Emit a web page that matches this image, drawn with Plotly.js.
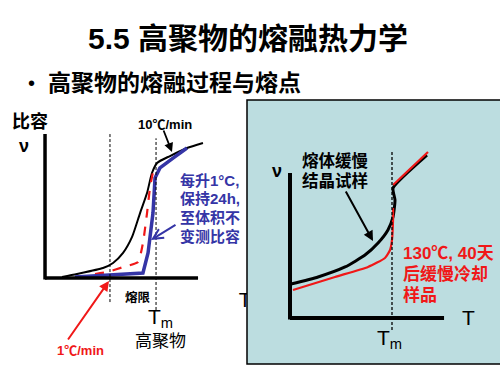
<!DOCTYPE html>
<html><head><meta charset="utf-8">
<script src="https://cdn.plot.ly/plotly-3.0.1.min.js"></script>
<style>html,body{margin:0;padding:0;background:#fff}#chart{width:500px;height:383px}</style>
</head><body><div id="chart"></div>
<script>
// ---- Left panel: temperature (arb.) vs specific volume (arb.) ----
const fastT = [10.6, 19.4, 34.7, 40.6, 46.5, 51.8, 56.5, 60.6, 63.5, 66.5, 74.1, 84.1, 93.5];
const fastV = [0.7, 2.8, 6.9, 10.4, 17.4, 28.5, 45.1, 59.0, 72.9, 79.9, 84.7, 90.3, 93.8];
const slowT = [30.0, 37.6, 46.5, 55.3, 58.2, 60.6, 62.4, 64.1];
const slowV = [2.8, 4.2, 7.6, 11.1, 24.3, 45.1, 63.2, 73.6];
const stepT = [18.2, 58.2, 61.2, 64.1, 65.3, 68.2, 75.9, 84.1];
const stepV = [0.7, 3.5, 17.4, 45.1, 69.4, 76.4, 83.3, 90.3];
const leftMarks = [38.8, 65.9];          // 熔限 lower bound, Tm
const leftMarkTop = [100, 97];
const leftMarkBottom = [-16.7, -22.2];
// ---- Right panel ----
const meltT = [0.7, 18.7, 36.7, 50.0, 58.7, 65.3, 68.7, 70.0, 68.7, 91.3];
const meltV = [23.4, 28.3, 35.2, 43.4, 51.7, 60.7, 69.7, 81.4, 89.7, 112.4];
const annT = [2.0, 30.0, 52.0, 63.3, 66.7, 68.0, 68.7, 68.7, null, 68.7, 92.0];
const annV = [19.3, 28.3, 35.2, 41.4, 46.9, 53.8, 67.6, 75.9, null, 91.7, 114.5];
const rightTm = 68;

const W = 500, H = 383;
const px = x => x / W, py = y => 1 - y / H;
const FONT = "Liberation Sans, Noto Sans CJK SC, sans-serif";
const BLUE = "#3535a6", RED = "#f01818";

const traces = [
  {x: fastT, y: fastV, xaxis: 'x', yaxis: 'y', mode: 'lines', line: {color: '#000', width: 2, shape: 'spline', smoothing: 0.6}},
  {x: slowT, y: slowV, xaxis: 'x', yaxis: 'y', mode: 'lines', line: {color: RED, width: 2.2, dash: 'dash', shape: 'spline', smoothing: 0.5}},
  {x: stepT, y: stepV, xaxis: 'x', yaxis: 'y', mode: 'lines', line: {color: BLUE, width: 3.5}},
  {x: [118.2], y: [-16.7], xaxis: 'x', yaxis: 'y', mode: 'text', text: ['T'], cliponaxis: true,
   textfont: {family: FONT, size: 20, color: '#000'}, textposition: 'middle center'},
  {x: meltT, y: meltV, xaxis: 'x2', yaxis: 'y2', mode: 'lines', line: {color: '#000', width: 3, shape: 'spline', smoothing: 0.5}},
  {x: annT, y: annV, xaxis: 'x2', yaxis: 'y2', mode: 'lines', line: {color: RED, width: 2.2, shape: 'spline', smoothing: 0.5}}
];

const ax = {visible: false, showgrid: false, zeroline: false, fixedrange: true};
const shapes = [
  {type: 'rect', xref: 'paper', yref: 'paper', x0: px(247), x1: 1.01, y0: py(364), y1: py(100),
   fillcolor: '#bcdde0', line: {color: '#000', width: 1.5}, layer: 'below'},
  {type: 'line', xref: 'x', yref: 'y', x0: 0.6, x1: 0.6, y0: -1, y1: 100, line: {color: '#000', width: 3.5}},
  {type: 'line', xref: 'x', yref: 'y', x0: 0.6, x1: 90.6, y0: 0, y1: 0, line: {color: '#000', width: 3.5}},
  {type: 'line', xref: 'x2', yref: 'y2', x0: 0, x1: 0, y0: -1, y1: 100, line: {color: '#000', width: 4}},
  {type: 'line', xref: 'x2', yref: 'y2', x0: 0, x1: 102.7, y0: 0, y1: 0, line: {color: '#000', width: 4}},
  {type: 'line', xref: 'x2', yref: 'y2', x0: rightTm, x1: rightTm, y0: -8.3, y1: 114.5, line: {color: '#000', width: 1.3, dash: '3px,2px'}}
];
leftMarks.forEach((m, i) => shapes.push({type: 'line', xref: 'x', yref: 'y', x0: m, x1: m,
  y0: leftMarkBottom[i], y1: leftMarkTop[i], line: {color: '#000', width: 1, dash: '3px,2px'}}));

function lab(text, x, y, size, color, opts) {
  return Object.assign({xref: 'paper', yref: 'paper', x: px(x), y: py(y), text: text, showarrow: false,
    xanchor: 'center', yanchor: 'middle', font: {family: FONT, size: size, color: color || '#000'}}, opts || {});
}
function arrow(x, y, tx, ty, color, w, head) {
  return {xref: 'paper', yref: 'paper', x: px(x), y: py(y), ax: tx - x, ay: ty - y, text: '',
    showarrow: true, arrowcolor: color, arrowwidth: w, arrowhead: head, arrowsize: 1};
}
const annotations = [
  lab('<b>5.5 高聚物的熔融热力学</b>', 248, 38, 30),
  lab('•', 31, 83, 20),
  lab('<b>高聚物的熔融过程与熔点</b>', 46, 83, 23, '#000', {xanchor: 'left'}),
  lab('<b>比容</b>', 30, 121, 18),
  lab('<b>ν</b>', 24, 146, 18),
  lab('<b>10℃/min</b>', 165, 125, 13),
  arrow(172, 152, 163, 129, '#000', 1.8, 2),
  lab('<b>每升1°C,</b>', 178, 180, 15, BLUE, {xanchor: 'left'}),
  lab('<b>保持24h,</b>', 178, 198, 15, BLUE, {xanchor: 'left'}),
  lab('<b>至体积不</b>', 178, 217, 15, BLUE, {xanchor: 'left'}),
  lab('<b>变测比容</b>', 178, 236, 15, BLUE, {xanchor: 'left'}),
  arrow(151, 240, 177, 224, BLUE, 2, 5),
  lab('<b>熔限</b>', 138, 297, 12.5),
  lab('T<sub>m</sub>', 160, 318, 21),
  lab('高聚物', 160, 341, 17),
  lab('<b>1℃/min</b>', 80, 350, 13, RED),
  arrow(109, 281, 67, 341, RED, 2, 2),
  lab('<b>ν</b>', 277, 171, 18),
  lab('<b>熔体缓慢</b>', 300, 160, 16.5, '#000', {xanchor: 'left'}),
  lab('<b>结晶试样</b>', 300, 180, 16.5, '#000', {xanchor: 'left'}),
  arrow(373, 241, 345, 190, '#000', 2, 2),
  lab('<b>130℃, 40天</b>', 401, 253, 17, RED, {xanchor: 'left'}),
  lab('<b>后缓慢冷却</b>', 401, 274, 17, RED, {xanchor: 'left'}),
  lab('<b>样品</b>', 401, 295, 17, RED, {xanchor: 'left'}),
  lab('T', 468, 317, 21),
  lab('T<sub>m</sub>', 389, 339, 21)
];

const layout = {
  width: W, height: H, margin: {l: 0, r: 0, t: 0, b: 0},
  paper_bgcolor: '#fff', plot_bgcolor: 'rgba(0,0,0,0)', showlegend: false,
  font: {family: FONT},
  xaxis: Object.assign({domain: [px(40.6), px(247)], range: [-2, 119.4], anchor: 'y'}, ax),
  yaxis: Object.assign({domain: [py(321.2), py(128.24)], range: [-30, 104], anchor: 'x'}, ax),
  xaxis2: Object.assign({domain: [px(285.5), px(450.5)], range: [-3, 107], anchor: 'y2'}, ax),
  yaxis2: Object.assign({domain: [py(335.4), py(146.9)], range: [-12, 118], anchor: 'x2'}, ax),
  shapes: shapes, annotations: annotations
};
Plotly.newPlot('chart', traces, layout, {staticPlot: true, displayModeBar: false});
</script></body></html>
